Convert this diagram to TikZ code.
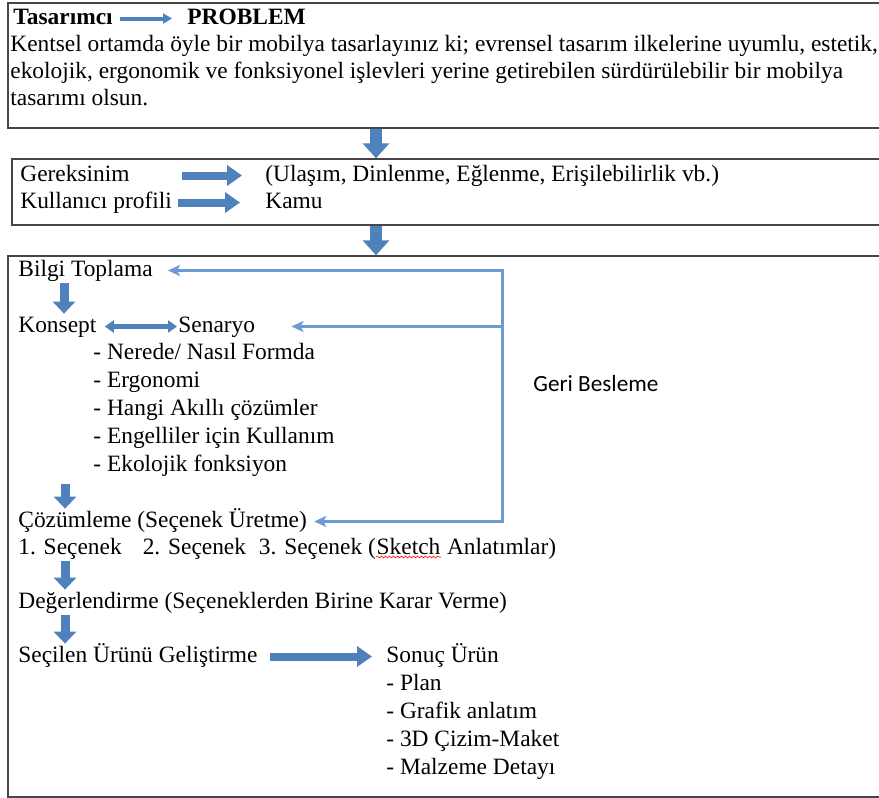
\documentclass[tikz,border=0pt]{standalone}
\usepackage{fontspec}
\setmainfont{Liberation Serif}
\newfontfamily\calibri{Carlito}
\usetikzlibrary{positioning,arrows.meta,decorations.pathmorphing}
\definecolor{boxgray}{RGB}{70,70,70}
\definecolor{arrowblue}{RGB}{79,129,189}
\definecolor{linkblue}{RGB}{108,154,212}

\begin{document}
\begin{tikzpicture}[
    x=0.5pt, y=-0.5pt,
    every node/.style={font=\fontsize{11.7}{14}\selectfont},
    txt/.style={anchor=base west, inner sep=0pt, text height=8pt, text depth=2.5pt},
    boldtxt/.style={txt, font=\fontsize{11.7}{14}\selectfont\bfseries},
    panel/.style={draw=boxgray, line width=0.75pt, inner sep=0pt, minimum width=438pt},
    bigarrow/.style={arrowblue, line width=6pt, -{Triangle[width=13pt,length=7.5pt]}},
    midarrow/.style={arrowblue, line width=4pt, -{Triangle[width=10pt,length=7.5pt]}},
    smallarrow/.style={arrowblue, line width=4.5pt, -{Triangle[width=11pt,length=6pt]}},
    dblarrow/.style={arrowblue, line width=2.5pt, {Triangle[width=6pt,length=4.5pt]}-{Triangle[width=6pt,length=4.5pt]}},
    thinarrow/.style={arrowblue, line width=2pt, -{Triangle[width=5pt,length=4.5pt]}},
    feedback/.style={linkblue, line width=1.5pt, >={Stealth[length=6pt,width=5.5pt,inset=1.5pt]}},
    spell/.style={red, line width=0.3pt, decorate, decoration={snake, amplitude=0.45pt, segment length=2pt}}
]
\useasboundingbox (0,0) rectangle (879,798);
\clip (0,0) rectangle (879,798);

% problem
\node[panel, minimum height=62.5pt] (prob) at (446,65.5) {};
\node[boldtxt] (tas) at (13,24) {Tasarımcı};
\node[boldtxt] (problem) at (187,24) {PROBLEM};
\draw[thinarrow] ([xshift=3.5pt]tas.east) -- ([xshift=-7.5pt]problem.west);
\node[txt] (kent1) at (10,51) {Kentsel ortamda öyle bir mobilya tasarlayınız ki; evrensel tasarım ilkelerine uyumlu, estetik,};
\node[txt] (kent2) at (10,78) {ekolojik, ergonomik ve fonksiyonel işlevleri yerine getirebilen sürdürülebilir bir mobilya};
\node[txt] (kent3) at (10,105) {tasarımı olsun.};

% gereksinim
\node[panel, minimum width=436pt, minimum height=33pt] (need) at (448,192) {};
\node[txt] (ger) at (20,181) {Gereksinim};
\node[txt] (ulasim) at (265,181) {(Ulaşım, Dinlenme, Eğlenme, Erişilebilirlik vb.)};
\node[txt] (kul) at (20,208) {Kullanıcı profili};
\node[txt] (kamu) at (265,208) {Kamu};
\draw[midarrow] ([xshift=-41.5pt]ulasim.west) -- ([xshift=-11.5pt]ulasim.west);
\draw[midarrow] ([xshift=-43.5pt]kamu.west) -- ([xshift=-12.5pt]kamu.west);

% surec
\node[panel, minimum height=270.5pt] (proc) at (446,526.5) {};
\coordinate (ax) at (376,0);
\draw[bigarrow] (prob.south -| ax) -- (need.north -| ax);
\draw[bigarrow] (need.south -| ax) -- (proc.north -| ax);

\node[txt] (bilgi) at (18,276) {Bilgi Toplama};
\node[txt] (konsept) at (18,332) {Konsept};
\node[txt] (senaryo) at (178,332) {Senaryo};
\draw[dblarrow] ([xshift=4pt]konsept.east) -- ([xshift=-0.5pt]senaryo.west);
\foreach \t [count=\i] in {Nerede/ Nasıl Formda, Ergonomi, Hangi Akıllı çözümler, Engelliler için Kullanım, Ekolojik fonksiyon}
    \node[txt] (item\i) at (93,331+28*\i) {- \t};

\node[txt] (coz) at (18,527) {Çözümleme (Seçenek Üretme)};
\node[txt] (secs) at (18,554) {1. Seçenek\hspace{0.9em}2. Seçenek\hspace{0.55em}3. Seçenek (};
\node[txt] (sketch) at (secs.base east) {Sketch};
\node[txt] (anlat) at (sketch.base east) {\ Anlatımlar)};
\draw[spell] ([yshift=-1.5pt]sketch.base west) -- ([yshift=-1.5pt]sketch.base east);
\node[txt] (deger) at (18,608) {Değerlendirme (Seçeneklerden Birine Karar Verme)};
\node[txt] (secilen) at (18,662) {Seçilen Ürünü Geliştirme};
\node[txt] (sonuc) at (386,662) {Sonuç Ürün};
\foreach \t [count=\i] in {Plan, Grafik anlatım, 3D Çizim-Maket, Malzeme Detayı}
    \node[txt] (out\i) at (386,662+28*\i) {- \t};
\draw[midarrow] ([xshift=6pt]secilen.east) -- ([xshift=-7pt]sonuc.west);

\draw[smallarrow] ([xshift=23pt,yshift=-1pt]bilgi.south west) -- ([xshift=23pt,yshift=1pt]konsept.north west);
\coordinate (c1) at (coz.north west |- item5.south);
\draw[smallarrow] ([xshift=23.5pt,yshift=-4pt]c1) -- ([xshift=23.5pt,yshift=1pt]coz.north west);
\draw[smallarrow] ([xshift=23.5pt,yshift=-1pt]secs.south west) -- ([xshift=23.5pt,yshift=1pt]deger.north west);
\draw[smallarrow] ([xshift=23.5pt,yshift=-1pt]deger.south west) -- ([xshift=23.5pt,yshift=1pt]secilen.north west);

% geri besleme
\coordinate (fb) at (502,0);
\draw[feedback, <->] ([xshift=7.5pt]bilgi.east) -- (bilgi.east -| fb) -- (coz.east -| fb) -- ([xshift=3.5pt]coz.east);
\draw[feedback, ->] (senaryo.east -| fb) -- ([xshift=18pt]senaryo.east);
\node[txt, font=\calibri\fontsize{11.6}{14}\selectfont] (geri) at (533,391) {Geri Besleme};

\end{tikzpicture}
\end{document}
